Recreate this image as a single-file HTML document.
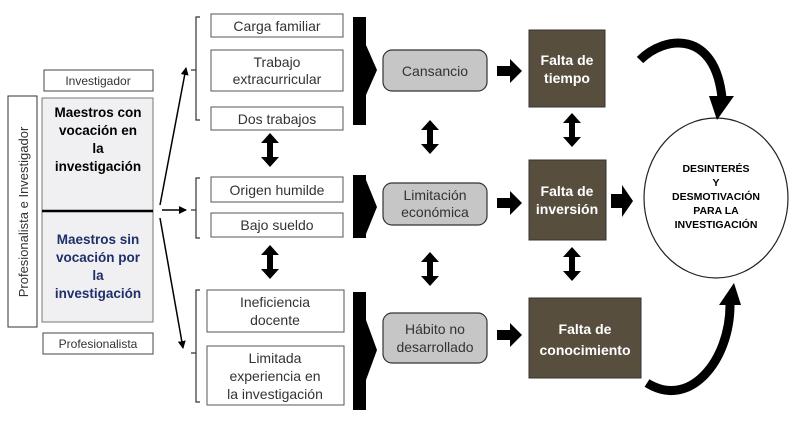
<!DOCTYPE html><html><head><style>
body{margin:0;background:#fff;}
svg text{font-family:"Liberation Sans",sans-serif;}
</style></head><body>
<svg width="804" height="420" viewBox="0 0 804 420" xmlns="http://www.w3.org/2000/svg">
<defs><marker id="ah" markerWidth="8" markerHeight="8" refX="7" refY="4" orient="auto" markerUnits="userSpaceOnUse"><path d="M0,0 L8,4 L0,8z" fill="#000"/></marker></defs>
<g font-size="13" text-anchor="middle">
<rect x="44" y="70" width="109" height="21" fill="#fff" stroke="#444"/>
<text x="98" y="85" font-size="12" fill="#333">Investigador</text>
<rect x="8" y="96" width="29" height="231" fill="#fff" stroke="#333"/>
<text transform="translate(28,212) rotate(-90)" font-size="13" fill="#333">Profesionalista e Investigador</text>
<rect x="42" y="98" width="111" height="224" fill="#f0f0f2" stroke="#777"/>
<line x1="42" y1="211" x2="153" y2="211" stroke="#000" stroke-width="2.5"/>
<g font-weight="bold" font-size="13.5"><text x="98" y="117">Maestros con</text><text x="98" y="135">vocación en</text><text x="98" y="153">la</text><text x="98" y="171">investigación</text>
<g fill="#1f2f6a"><text x="98" y="244">Maestros sin</text><text x="98" y="262">vocación por</text><text x="98" y="280">la</text><text x="98" y="298">investigación</text></g></g>
<rect x="43" y="333" width="110" height="21" fill="#fff" stroke="#444"/>
<text x="98" y="348" font-size="12" fill="#333">Profesionalista</text>
<g stroke="#000" stroke-width="1.5" fill="none" marker-end="url(#ah)">
<line x1="160" y1="205" x2="186" y2="68"/><line x1="162" y1="210" x2="186" y2="210"/><line x1="160" y1="218" x2="183" y2="348"/></g>
<g stroke="#333" stroke-width="1.2" fill="none">
<path d="M200,17 H196 V120 H200 M196,70 H191"/>
<path d="M200,178 H196 V238 H200 M196,210 H191"/>
<path d="M200,290 H196 V402 H200 M196,353 H191"/></g>
<g fill="#fff" stroke="#555"><rect x="211" y="14" width="132" height="23"/><rect x="211" y="50" width="132" height="41"/><rect x="211" y="107" width="132" height="23"/>
<rect x="211" y="177" width="132" height="25"/><rect x="211" y="213" width="132" height="24"/>
<rect x="207" y="290" width="137" height="42"/><rect x="207" y="346" width="137" height="59"/></g>
<g fill="#333" font-size="14"><text x="277" y="31">Carga familiar</text><text x="277" y="67">Trabajo</text><text x="277" y="84">extracurricular</text><text x="277" y="124">Dos trabajos</text>
<text x="277" y="195">Origen humilde</text><text x="277" y="230">Bajo sueldo</text>
<text x="275" y="307">Ineficiencia</text><text x="275" y="325">docente</text><text x="275" y="363">Limitada</text><text x="275" y="381">experiencia en</text><text x="275" y="399">la investigación</text></g>
<g fill="#000"><rect x="353" y="17" width="13" height="108"/><path d="M366,45 L377,70 L366,95z"/>
<rect x="353" y="175" width="13" height="63"/><path d="M366,180 L377,207 L366,234z"/>
<rect x="353" y="292" width="13" height="118"/><path d="M366,320 L377,350 L366,380z"/></g>
<g fill="#c6c6c6" stroke="#333" stroke-width="1.2"><rect x="383" y="50" width="104" height="41" rx="9"/><rect x="383" y="183" width="104" height="42" rx="9"/><rect x="383" y="313" width="104" height="50" rx="9"/></g>
<g fill="#333" font-size="14"><text x="435" y="76">Cansancio</text><text x="435" y="200">Limitación</text><text x="435" y="217">económica</text><text x="435" y="334">Hábito no</text><text x="435" y="352">desarrollado</text></g>
<g fill="#584e3e" stroke="#333"><rect x="529" y="30" width="76" height="77"/><rect x="529" y="160" width="77" height="80"/><rect x="529" y="298" width="112" height="80"/></g>
<g fill="#fff" font-weight="bold" font-size="14"><text x="567" y="65">Falta de</text><text x="567" y="83">tiempo</text><text x="567" y="196">Falta de</text><text x="567" y="214">inversión</text><text x="585" y="334">Falta de</text><text x="585" y="355">conocimiento</text></g>
<g fill="#000">
<path d="M497,66 H510 V59 L522,71 L510,83 V76 H497z"/>
<path d="M497,198 H510 V191 L522,203 L510,215 V208 H497z"/>
<path d="M497,330 H510 V323 L522,335 L510,347 V340 H497z"/>
<path d="M611,194 H622 V185 L633,201 L622,217 V208 H611z"/>
<path id="dbl" d="M0,0 L-9,10 H-3 V24 H-9 L0,34 L9,24 H3 V10 H9z" transform="translate(270,133)"/>
<use href="#dbl" transform="translate(0,112)"/>
<use href="#dbl" transform="translate(160,-13)"/>
<use href="#dbl" transform="translate(160,119)"/>
<use href="#dbl" transform="translate(302,-20)"/>
<use href="#dbl" transform="translate(302,114)"/>
</g>
<ellipse cx="716" cy="198" rx="72" ry="80" fill="#fff" stroke="#222" stroke-width="1.2"/>
<g font-weight="bold" font-size="10.5" fill="#000"><text x="716" y="172">DESINTERÉS</text><text x="716" y="186">Y</text><text x="716" y="200">DESMOTIVACIÓN</text><text x="716" y="214">PARA LA</text><text x="716" y="228">INVESTIGACIÓN</text></g>
<g fill="none" stroke="#000" stroke-width="9">
<path d="M640,60 C665,35 715,30 722,98"/>
<path d="M647,383 C690,410 730,360 730,305"/>
</g>
<g fill="#000">
<path d="M709,96 L734,96 L717,120z"/>
<path d="M719,305 L741,305 L734,283z"/>
</g>
</g>
</svg>
</body></html>
